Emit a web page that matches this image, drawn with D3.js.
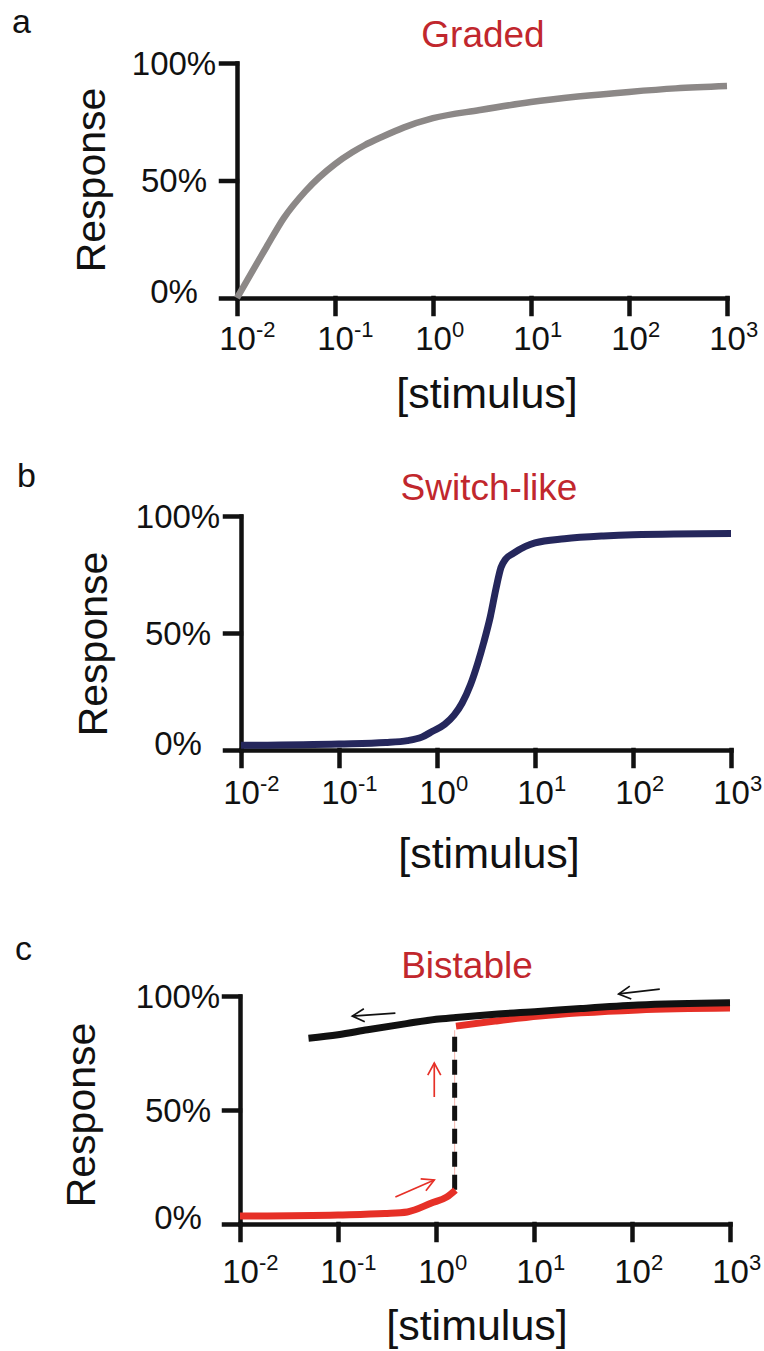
<!DOCTYPE html>
<html>
<head>
<meta charset="utf-8">
<script src="https://cdn.jsdelivr.net/npm/d3@7"></script>
<style>
body { margin: 0; background: #fff; }
text { font-family: "Liberation Sans", Arial, Helvetica, sans-serif; fill: #111; }
</style>
</head>
<body>
<svg id="fig"></svg>
<script>

//////////////////////////////////////////////////////////////////////////////
// Data

var xTicks    = [1e-2, 1e-1, 1e0, 1e1, 1e2, 1e3];
var xTickExp  = ["-2", "-1", "0", "1", "2", "3"];
var yTicks    = [0, 50, 100];
var yTickText = ["0%", "50%", "100%"];

var panelLetters = ["a", "b", "c"];
var panelTitles  = ["Graded", "Switch-like", "Bistable"];
var xLabel = "[stimulus]";
var yLabel = "Response";

// a: graded
var gradedX = [0.01, 0.02, 0.03, 0.05, 0.1, 0.15, 0.2, 0.3, 0.5, 1, 3, 10, 30, 100, 300, 1000];
var gradedY = [0, 21.7, 34, 45.5, 57, 62, 65, 68.5, 72.5, 76.5, 80, 83.4, 85.7, 87.7, 89.2, 90.2];

// b: switch-like
var switchX = [0.01, 0.1, 0.3, 0.5, 0.7, 0.9, 1.2, 1.5, 1.8, 2.2, 2.6, 3, 3.5, 4, 4.5, 5, 6, 8, 10, 20, 50, 100, 1000];
var switchY = [2, 2.6, 3.2, 4, 5.5, 8, 11, 15, 20, 28, 37, 46, 57, 69, 78, 81.5, 84, 87, 88.5, 90.3, 91.5, 92, 92.5];

// c: bistable
var lowX  = [0.01, 0.1, 0.3, 0.51, 0.9, 1.28, 1.58];
var lowY  = [3.5, 4, 4.6, 5.3, 9.2, 11.8, 14.9];
var highX = [1.6, 4, 11.4, 30, 115, 1000];
var highY = [86.8, 89, 91.2, 92.6, 93.9, 94.7];
var backX = [0.05, 0.1, 0.2, 0.5, 1, 1.6, 4, 11, 30, 115, 1000];
var backY = [81.5, 83, 85.2, 87.9, 89.8, 90.6, 92, 93.2, 94.5, 96, 97];
var jumpX = [1.55, 1.55];
var jumpY = [15, 85];

// arrows [x1, y1, x2, y2] (head at x2,y2)
var blackArrows = [[0.385, 92.5, 0.14, 91.2], [192, 103, 73, 100.9]];
var redArrows   = [[0.96, 55.7, 0.96, 70.6], [0.385, 11.8, 0.96, 19.3]];

//////////////////////////////////////////////////////////////////////////////
// Layout

var W = 764, H = 1351;
var panels = [
    {x0: 237, x1: 727, yTop: 63,  yBot: 298,  letterX: 12, letterY: 33,  titleX: 483, titleY: 47,
     tickY: 350,  stimX: 487, stimY: 408,  respX: 105, respY: 180,  yLabX: 174},
    {x0: 241, x1: 731, yTop: 516, yBot: 750,  letterX: 17, letterY: 487, titleX: 489, titleY: 500,
     tickY: 804,  stimX: 489, stimY: 868,  respX: 107, respY: 644,  yLabX: 178},
    {x0: 240, x1: 730, yTop: 996, yBot: 1224, letterX: 15, letterY: 960, titleX: 467, titleY: 978,
     tickY: 1283, stimX: 477, stimY: 1340, respX: 95,  respY: 1115, yLabX: 178}
];

var svg = d3.select("#fig").attr("width", W).attr("height", H);

var defs = svg.append("defs");
function addMarker(id, color) {
    defs.append("marker")
        .attr("id", id)
        .attr("viewBox", "-13 -8 15 16")
        .attr("markerUnits", "userSpaceOnUse")
        .attr("markerWidth", 15).attr("markerHeight", 16)
        .attr("orient", "auto")
        .append("path")
        .attr("d", "M-12,-6.5 L0,0 L-12,6.5")
        .attr("fill", "none")
        .attr("stroke", color)
        .attr("stroke-width", 1.7);
}
addMarker("headBlack", "#111");
addMarker("headRed", "#e63027");

function drawPanel(i) {
    var p = panels[i];
    var g = svg.append("g");

    var x = d3.scaleLog().domain([1e-2, 1e3]).range([p.x0, p.x1]);
    var y = d3.scaleLinear().domain([0, 100]).range([p.yBot, p.yTop]);

    g.append("text").attr("x", p.letterX).attr("y", p.letterY)
        .attr("font-size", 34).text(panelLetters[i]);

    g.append("text").attr("x", p.titleX).attr("y", p.titleY)
        .attr("text-anchor", "middle").attr("font-size", 37)
        .style("fill", "#c1272d").text(panelTitles[i]);

    // x axis
    var gx = g.append("g").attr("transform", "translate(0," + p.yBot + ")")
        .call(d3.axisBottom(x).tickValues(xTicks).tickSize(16).tickSizeOuter(0).tickFormat(""));
    gx.selectAll(".tick").each(function(d, k) {
        var t = d3.select(this).append("text")
            .attr("x", -18.3).attr("y", p.tickY - p.yBot)
            .attr("text-anchor", "start").attr("font-size", 33);
        t.append("tspan").text("10");
        t.append("tspan").attr("font-size", 22).attr("dy", -13).text(xTickExp[k]);
    });

    // y axis
    var gy = g.append("g").attr("transform", "translate(" + p.x0 + ",0)")
        .call(d3.axisLeft(y).tickValues(yTicks).tickSize(16).tickSizeOuter(0).tickFormat(""));
    gy.selectAll(".tick").append("text")
        .attr("x", p.yLabX - p.x0)
        .attr("y", function(d) { return d === 0 ? 4 : 11; })
        .attr("text-anchor", "middle").attr("font-size", 33)
        .text(function(d, k) { return yTickText[k]; });

    g.selectAll(".domain, .tick line")
        .attr("stroke", "#111").attr("stroke-width", 4.5).attr("stroke-linecap", "square");

    g.append("text").attr("x", p.stimX).attr("y", p.stimY)
        .attr("text-anchor", "middle").attr("font-size", 43).text(xLabel);

    g.append("text")
        .attr("transform", "translate(" + p.respX + "," + p.respY + ") rotate(-90)")
        .attr("text-anchor", "middle").attr("font-size", 41).text(yLabel);

    var line = d3.line()
        .x(function(d) { return x(d[0]); })
        .y(function(d) { return y(d[1]); })
        .curve(d3.curveMonotoneX);

    function curve(xs, ys, color, w) {
        g.append("path").datum(d3.zip(xs, ys))
            .attr("d", line).attr("fill", "none")
            .attr("stroke", color).attr("stroke-width", w);
    }
    function arrow(a, color, marker) {
        g.append("line")
            .attr("x1", x(a[0])).attr("y1", y(a[1]))
            .attr("x2", x(a[2])).attr("y2", y(a[3]))
            .attr("stroke", color).attr("stroke-width", 1.7)
            .attr("marker-end", "url(#" + marker + ")");
    }

    if (i === 0) curve(gradedX, gradedY, "#8c8887", 6.5);
    if (i === 1) curve(switchX, switchY, "#25275c", 7);
    if (i === 2) {
        var straight = d3.line().x(function(d) { return x(d[0]); }).y(function(d) { return y(d[1]); });
        g.append("path").datum(d3.zip(jumpX, jumpY))
            .attr("d", straight)
            .attr("stroke", "#f5b5ad").attr("stroke-width", 1);
        g.append("path").datum(d3.zip(jumpX, jumpY))
            .attr("d", straight)
            .attr("stroke", "#111").attr("stroke-width", 5)
            .attr("stroke-dasharray", "15,8");
        curve(lowX, lowY, "#e63027", 7);
        curve(highX, highY, "#e63027", 7);
        curve(backX, backY, "#111", 7);
        blackArrows.forEach(function(a) { arrow(a, "#111", "headBlack"); });
        redArrows.forEach(function(a) { arrow(a, "#e63027", "headRed"); });
    }
}

for (var i = 0; i < panels.length; ++i) drawPanel(i);

</script>
</body>
</html>
